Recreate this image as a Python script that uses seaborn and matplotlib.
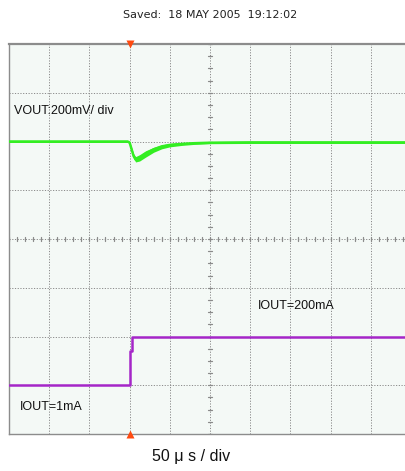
import numpy as np
import pandas as pd
import matplotlib
matplotlib.use("Agg")
import matplotlib.pyplot as plt
import seaborn as sns

# scope screen in divisions: 10 horizontal x 8 vertical
vout_t = [0.0, 1.0, 2.0, 2.95, 3.0, 3.05, 3.1, 3.15, 3.25, 3.4, 3.6, 3.8, 4.0, 4.3, 4.6, 5.0, 6.0, 7.0, 8.0, 9.0, 10.0]
vout_v = [6.0, 6.0, 6.0, 6.0, 5.98, 5.84, 5.7, 5.63, 5.66, 5.75, 5.84, 5.9, 5.93, 5.95, 5.965, 5.975, 5.98, 5.98, 5.98, 5.98, 5.98]
vout_hi = [6.02, 6.02, 6.02, 6.02, 6.0, 5.88, 5.75, 5.69, 5.73, 5.81, 5.88, 5.93, 5.96, 5.98, 5.99, 6.0, 6.01, 6.01, 6.01, 6.01, 6.01]
vout_lo = [5.98, 5.98, 5.98, 5.98, 5.96, 5.8, 5.65, 5.58, 5.6, 5.68, 5.78, 5.85, 5.89, 5.92, 5.94, 5.955, 5.96, 5.96, 5.96, 5.96, 5.96]

iout_t = [0.0, 3.02, 3.02, 3.05, 3.05, 10.0]
iout_v = [1.0, 1.0, 1.7, 1.7, 2.0, 2.0]

trigger_t = 3.0

W, H = 406, 471
sns.set_style("white")
plt.rcParams['font.family'] = ['Liberation Sans', 'DejaVu Sans']

fig = plt.figure(figsize=(W / 100, H / 100), dpi=100)
fig.patch.set_facecolor("white")
ax = fig.add_axes([9 / W, 37 / H, 402 / W, 390 / H])
ax.set_facecolor("#f4f9f6")
ax.set_xlim(0, 10)
ax.set_ylim(0, 8)

# graticule
for gx in range(1, 10):
    ax.axvline(gx, color="#8a8a8a", lw=0.7, ls=(0, (1.2, 1.6)), zorder=1)
for gy in range(1, 8):
    ax.axhline(gy, color="#8a8a8a", lw=0.7, ls=(0, (1.2, 1.6)), zorder=1)
for tx in np.arange(0, 10.01, 0.2):
    ax.plot([tx, tx], [3.95, 4.05], color="#8a8a8a", lw=0.9, zorder=1)
for ty in np.arange(0, 8.01, 0.25):
    ax.plot([4.94, 5.06], [ty, ty], color="#8a8a8a", lw=0.9, zorder=1)

df_v = pd.DataFrame({"t": vout_t, "v": vout_v})
df_i = pd.DataFrame({"t": iout_t, "v": iout_v})
ax.fill_between(vout_t, vout_lo, vout_hi, color="#33ee22", lw=0, zorder=3)
sns.lineplot(data=df_v, x="t", y="v", sort=False, estimator=None, color="#33ee22", lw=1.8, ax=ax, zorder=3)
sns.lineplot(data=df_i, x="t", y="v", sort=False, estimator=None, color="#a526c8", lw=1.8, ax=ax, zorder=3)

ax.plot([trigger_t], [8], marker="v", color="#ff4a10", ms=6, clip_on=False, zorder=5, mec="none")
ax.plot([trigger_t], [0], marker="^", color="#ff4a10", ms=6, clip_on=False, zorder=5, mec="none")

ax.set_xticks([])
ax.set_yticks([])
ax.set_xlabel("")
ax.set_ylabel("")
for s in ["left", "bottom", "right"]:
    ax.spines[s].set_color("#8c8c8c")
    ax.spines[s].set_linewidth(1.0)
ax.spines["top"].set_color("#8c8c8c")
ax.spines["top"].set_linewidth(1.6)


def px(x, y):
    return x / W, 1 - y / H


fig.text(*px(210, 15), "Saved:  18 MAY 2005  19:12:02", ha="center", va="center", fontsize=8,
         family=['Liberation Sans Narrow', 'DejaVu Sans'], color="#222222")
fig.text(*px(14, 111.5), "VOUT:200mV/ div", ha="left", va="center", fontsize=9, color="#111111")
fig.text(*px(258, 306), "IOUT=200mA", ha="left", va="center", fontsize=9, color="#111111")
fig.text(*px(20, 407), "IOUT=1mA", ha="left", va="center", fontsize=9, color="#111111")
fig.text(*px(191, 457), "50 \u03bc s / div", ha="center", va="center", fontsize=11.5, color="#111111")

fig.savefig("out.png", dpi=100)
